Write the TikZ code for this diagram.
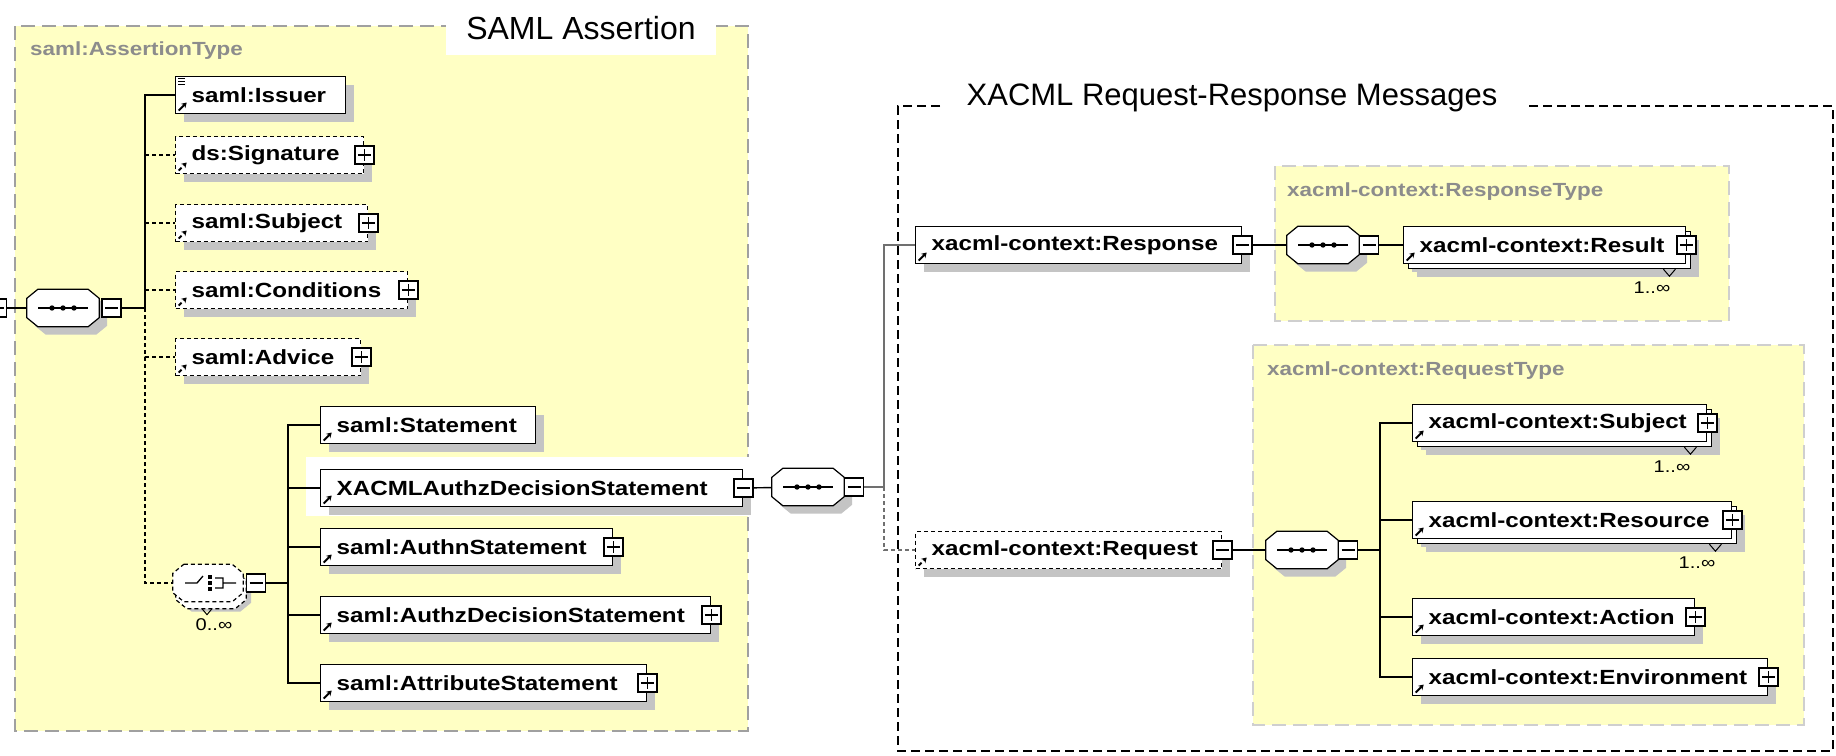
\documentclass[tikz,border=0pt]{standalone}
\usepackage{fontspec}
\setmainfont{Liberation Sans}
\newfontfamily\xsdfont[FakeStretch=1.18]{Liberation Sans}
\usetikzlibrary{shadows, arrows.meta}
\definecolor{xsdyellow}{HTML}{FFFFC4}
\definecolor{xsdgrey}{HTML}{8C8C8C}
\definecolor{xsdshadow}{HTML}{C4C4C4}
\definecolor{xsdborder}{HTML}{A0A0A0}
\definecolor{xsdlight}{HTML}{CFCFCF}
\definecolor{xsdline}{HTML}{707070}

% octagon outline round a compositor node
\newcommand{\octagonpath}[1]{([xshift=11pt]#1.north west) -- ([xshift=-11pt]#1.north east)
    -- ([yshift=-9pt]#1.north east) -- ([yshift=9pt]#1.south east) -- ([xshift=-11pt]#1.south east)
    -- ([xshift=11pt]#1.south west) -- ([yshift=9pt]#1.south west) -- ([yshift=-9pt]#1.north west) -- cycle}
% sequence compositor
\newcommand{\seqicon}[1]{%
    \fill[xsdshadow, transform canvas={shift={(8pt,-8pt)}}] \octagonpath{#1};
    \filldraw[fill=white, draw=black, line width=1.2pt] \octagonpath{#1};
    \draw[line width=1.3pt] ([xshift=-25pt]#1.center) -- ([xshift=25pt]#1.center);
    \foreach \dx in {-11,0,11}
        \fill ([xshift=\dx pt]#1.center) circle[radius=2.7pt];}
% choice compositor
\newcommand{\chcicon}[1]{%
    \fill[xsdshadow, transform canvas={shift={(8pt,-10pt)}}] \octagonpath{#1};
    \filldraw[fill=white, draw=black, line width=1.2pt, dash pattern=on 4pt off 3pt,
        transform canvas={shift={(3pt,-7pt)}}] \octagonpath{#1};
    \filldraw[fill=white, draw=black, line width=1.2pt, dash pattern=on 4pt off 3pt] \octagonpath{#1};
    \draw[line width=1.3pt] ([xshift=-23pt]#1.center) -- ([xshift=-11pt]#1.center) -- ([shift={(-5,-7)}]#1.center)
        ([shift={(7,-5)}]#1.center) -- ([shift={(15,-5)}]#1.center) -- ([shift={(15,5)}]#1.center) -- ([shift={(7,5)}]#1.center)
        ([xshift=15pt]#1.center) -- ([xshift=28pt]#1.center);
    \foreach \dy in {-6,0,6}
        \fill ([shift={(0,\dy-2)}]#1.center) rectangle ([shift={(4,\dy+2)}]#1.center);}

\begin{document}
\begin{tikzpicture}[x=1pt, y=-1pt, every node/.style={font=\xsdfont},
    frame/.style={fill=xsdyellow, line width=1.6pt, dash pattern=on 14pt off 7pt},
    outer/.style={draw=black, line width=2pt, dash pattern=on 9pt off 5pt},
    title/.style={anchor=base, inner sep=0pt, font=\fontsize{32}{38}\selectfont},
    typelbl/.style={anchor=west, inner sep=0pt, text=xsdgrey, font=\xsdfont\bfseries\fontsize{19}{22}\selectfont},
    mult/.style={inner sep=0pt, font=\xsdfont\fontsize{17}{20}\selectfont},
    conn/.style={draw=black, line width=1.4pt},
    lconn/.style={draw=xsdline, line width=1.2pt},
    opt/.style={dash pattern=on 4pt off 3pt},
    elem/.style={rectangle, draw=black, fill=white, line width=1.4pt, anchor=west, align=left,
        minimum height=37pt, inner xsep=16pt, inner ysep=0pt,
        font=\xsdfont\bfseries\fontsize{20.5}{24}\selectfont,
        drop shadow={shadow xshift=8pt, shadow yshift=-8pt, fill=xsdshadow, opacity=1},
        path picture={\draw[line width=2pt, -{Stealth[length=5pt, width=6pt]}]
            ([shift={(3,-3)}]path picture bounding box.south west) -- ++(8,-8);}},
    many/.style={drop shadow={shadow xshift=13pt, shadow yshift=-13pt, fill=xsdshadow, opacity=1},
        copy shadow={shadow xshift=5pt, shadow yshift=-5pt, draw=black, fill=white, line width=1.4pt}},
    vmark/.style={draw=black, line width=1pt},
    tog/.style={rectangle, draw=black, fill=white, line width=1.2pt, minimum width=19pt, minimum height=18pt, inner sep=0pt},
    minus/.style={tog, path picture={\draw[black, line width=1.2pt]
            ([xshift=3pt]path picture bounding box.west) -- ([xshift=-3pt]path picture bounding box.east);}},
    plus/.style={tog, path picture={\draw[black, line width=1.2pt]
            ([xshift=3pt]path picture bounding box.west) -- ([xshift=-3pt]path picture bounding box.east)
            ([yshift=-3pt]path picture bounding box.north) -- ([yshift=3pt]path picture bounding box.south);}},
    octo/.style={rectangle, minimum width=72pt, minimum height=37pt, inner sep=0pt}]

    \fill[white] (0,0) rectangle (1836,755);
    \useasboundingbox (0,0) rectangle (1836,755);

    % SAML assertion frame
    \draw[frame, draw=xsdborder] (15,26) rectangle (748,731);
    \fill[white] (306,457) rectangle (751,516);
    \fill[white] (446,20) rectangle (716,55);
    \node[title] (samltitle) at (581,39) {SAML Assertion};
    \node[typelbl] (assertiontype) at (30,51) {saml:AssertionType};

    % XACML messages frame
    \draw[outer] (940,106) -- (898,106) -- (898,751) -- (1833,751) -- (1833,106) -- (1526,106);
    \node[title, font=\fontsize{31}{37}\selectfont] (xacmltitle) at (1232,105) {XACML Request-Response Messages};
    \draw[frame, draw=xsdlight] (1275,166) rectangle (1729,321);
    \draw[frame, draw=xsdlight] (1253,345) rectangle (1804,725);
    \node[typelbl] (responsetype) at (1287,192) {xacml-context:ResponseType};
    \node[typelbl] (requesttype) at (1267,371) {xacml-context:RequestType};

    % Assertion content
    \node[minus] (root) at (-3,308) {};
    \node[octo] (seqa) at (63,308) {};
    \seqicon{seqa}
    \node[minus] (seqam) at (111.5,308) {};
    \coordinate (trunka) at (145,308);

    \node[elem, text width=138pt] (issuer) at (175,95) {saml:Issuer};
    \node[elem, opt, text width=156pt] (signature) at (175,155) {ds:Signature};
    \node[elem, opt, text width=160pt] (subject) at (175,223) {saml:Subject};
    \node[elem, opt, text width=200pt] (conditions) at (175,290) {saml:Conditions};
    \node[elem, opt, text width=153pt] (advice) at (175,357) {saml:Advice};
    \node[plus] (signaturex) at (signature.east) {};
    \node[plus] (subjectx) at (subject.east) {};
    \node[plus] (conditionsx) at (conditions.east) {};
    \node[plus] (advicex) at (advice.east) {};
    \foreach \dy in {3,6,9}
        \draw[line width=1pt] ([shift={(3,\dy)}]issuer.north west) -- ++(7,0);

    \draw[conn] (root) -- (seqa);
    \draw[conn] (seqam) -- (trunka);
    \draw[conn] (trunka) |- (issuer.west);
    \draw[conn, opt] (trunka |- signature.west) -- (signature.west);
    \draw[conn, opt] (trunka |- subject.west) -- (subject.west);
    \draw[conn, opt] (trunka |- conditions.west) -- (conditions.west);
    \draw[conn, opt] (trunka) |- (advice.west);

    % Statement choice
    \node[octo, minimum width=70pt] (choice) at (208,583) {};
    \chcicon{choice}
    \node[minus] (choicem) at (256,583) {};
    \node[mult] (choicen) at (214,625) {0..∞};
    \coordinate (trunkb) at (288,583);
    \draw[vmark] ([shift={(-6,7)}]choice.south) -- ++(5,6) -- ++(5,-6);
    \draw[conn, opt] (trunka) |- (choice.west);

    \node[elem, text width=183pt] (statement) at (320,425) {saml:Statement};
    \node[elem, text width=390pt] (xacmlstmt) at (320,488) {XACMLAuthzDecisionStatement};
    \node[elem, text width=260pt] (authn) at (320,547) {saml:AuthnStatement};
    \node[elem, text width=358pt] (authz) at (320,615) {saml:AuthzDecisionStatement};
    \node[elem, text width=294pt] (attribute) at (320,683) {saml:AttributeStatement};
    \node[minus] (xacmlstmtm) at (xacmlstmt.east) {};
    \node[plus] (authnx) at (authn.east) {};
    \node[plus] (authzx) at (authz.east) {};
    \node[plus] (attributex) at (attribute.east) {};

    \draw[conn] (choicem) -- (trunkb);
    \draw[conn] (trunkb) |- (statement.west);
    \draw[conn] (trunkb) |- (attribute.west);
    \draw[conn] (trunkb |- xacmlstmt.west) -- (xacmlstmt.west);
    \draw[conn] (trunkb |- authn.west) -- (authn.west);
    \draw[conn] (trunkb |- authz.west) -- (authz.west);

    % Request / response messages
    \node[octo] (seqb) at (808,487) {};
    \seqicon{seqb}
    \node[minus] (seqbm) at (854,487) {};
    \coordinate (trunkc) at (884,487);
    \draw[conn] (xacmlstmtm) -- (seqb);

    \node[elem, text width=294pt] (response) at (915,245) {xacml-context:Response};
    \node[elem, opt, text width=274pt] (request) at (915,550) {xacml-context:Request};
    \node[minus] (responsem) at (response.east) {};
    \node[minus] (requestm) at (request.east) {};
    \draw[lconn] (seqbm) -- (trunkc);
    \draw[lconn] (trunkc) |- (response.west);
    \draw[lconn, opt] (trunkc) |- (request.west);

    % Response type
    \node[octo] (seqc) at (1323,245) {};
    \seqicon{seqc}
    \node[minus] (seqcm) at (1369,245) {};
    \node[elem, many, text width=250pt] (result) at (1403,245) {xacml-context:Result};
    \node[plus] (resultx) at (result.east) {};
    \draw[vmark] ([shift={(-23,5)}]result.south east) -- ++(6,7) -- ++(6,-7);
    \node[mult] (resultn) at (1652,288) {1..∞};
    \draw[conn] (responsem) -- (seqc);
    \draw[conn] (seqcm) -- (result);

    % Request type
    \node[octo] (seqd) at (1302,550) {};
    \seqicon{seqd}
    \node[minus] (seqdm) at (1348,550) {};
    \coordinate (trunkd) at (1380,550);
    \node[elem, many, text width=262pt] (rsubject) at (1412,423) {xacml-context:Subject};
    \node[elem, many, text width=287pt] (resource) at (1412,520) {xacml-context:Resource};
    \node[elem, text width=250pt] (action) at (1412,617) {xacml-context:Action};
    \node[elem, text width=323pt] (environment) at (1412,677) {xacml-context:Environment};
    \node[plus] (rsubjectx) at (rsubject.east) {};
    \node[plus] (resourcex) at (resource.east) {};
    \node[plus] (actionx) at (action.east) {};
    \node[plus] (environmentx) at (environment.east) {};
    \draw[vmark] ([shift={(-23,5)}]rsubject.south east) -- ++(6,7) -- ++(6,-7);
    \draw[vmark] ([shift={(-23,5)}]resource.south east) -- ++(6,7) -- ++(6,-7);
    \node[mult] (rsubjectn) at (1672,467) {1..∞};
    \node[mult] (resourcen) at (1697,563) {1..∞};

    \draw[conn] (requestm) -- (seqd);
    \draw[conn] (seqdm) -- (trunkd);
    \draw[conn] (trunkd) |- (rsubject.west);
    \draw[conn] (trunkd) |- (environment.west);
    \draw[conn] (trunkd |- resource.west) -- (resource.west);
    \draw[conn] (trunkd |- action.west) -- (action.west);
\end{tikzpicture}
\end{document}
